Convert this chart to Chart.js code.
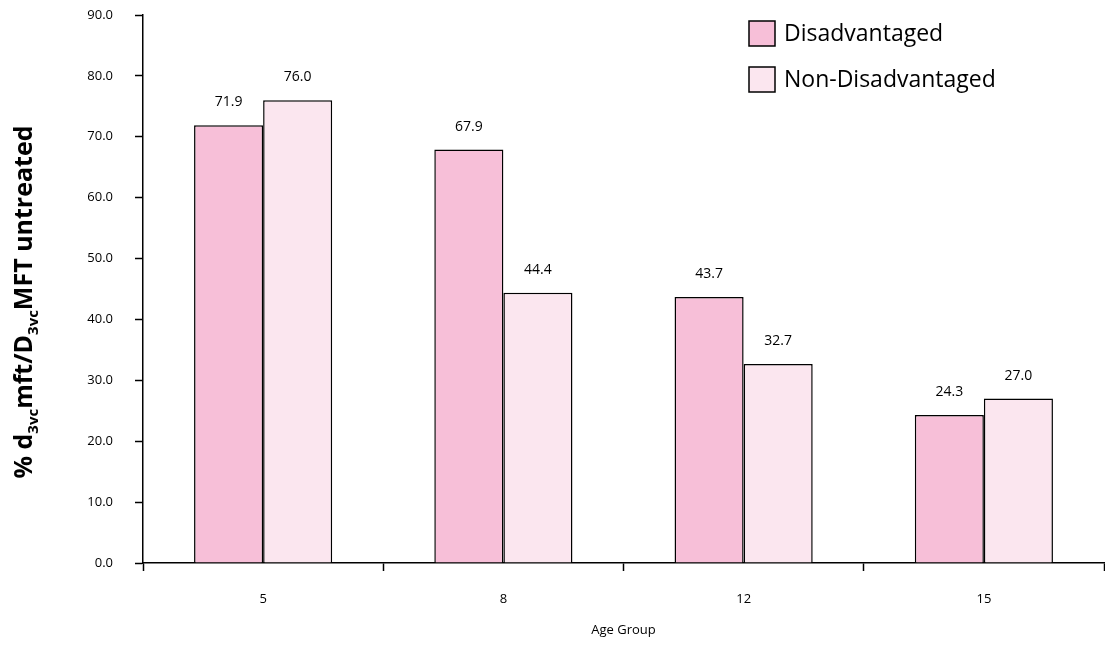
<!DOCTYPE html>
<html>
<head>
<meta charset="utf-8">
<script src="https://cdn.jsdelivr.net/npm/chart.js@4.4.1/dist/chart.umd.min.js"></script>
<style>
  html, body { margin: 0; padding: 0; background: #fff; }
  #wrap { width: 1105px; height: 648px; position: relative; }
</style>
</head>
<body>
<div id="wrap"><canvas id="chart"></canvas></div>
<script>
// chart values
const ageGroups = ['5', '8', '12', '15'];
const disadvantaged = [71.9, 67.9, 43.7, 24.3];
const nonDisadvantaged = [76.0, 44.4, 32.7, 27.0];
const seriesNames = ['Disadvantaged', 'Non-Disadvantaged'];
const seriesColors = ['#f7bfd8', '#fbe6ef'];
const yTitleParts = [['% d', false], ['3vc', true], ['mft/D', false], ['3vc', true], ['MFT untreated', false]];
const xTitle = 'Age Group';

const FONT = '"Open Sans", "DejaVu Sans", sans-serif';

// value labels above bars
const barLabels = {
    id: 'barLabels',
    afterDatasetsDraw(chart) {
        let ctx = chart.ctx;
        ctx.save();
        ctx.font = '14px ' + FONT;
        ctx.fillStyle = '#000';
        ctx.textAlign = 'center';
        ctx.textBaseline = 'middle';
        chart.data.datasets.forEach((ds, i) => {
            chart.getDatasetMeta(i).data.forEach((bar, j) => {
                ctx.fillText(ds.data[j].toFixed(1), bar.x, bar.y - 23);
            });
        });
        ctx.restore();
    }
};

// legend in top right + rotated y title with subscripts
const extras = {
    id: 'extras',
    afterDraw(chart) {
        let ctx = chart.ctx;
        ctx.save();
        // legend
        ctx.font = '23px ' + FONT;
        ctx.textBaseline = 'middle';
        ctx.textAlign = 'left';
        seriesNames.forEach((name, i) => {
            let y = 21 + i * 46;
            ctx.fillStyle = seriesColors[i];
            ctx.fillRect(749, y, 26, 25);
            ctx.strokeStyle = '#000';
            ctx.lineWidth = 1.5;
            ctx.strokeRect(749, y, 26, 25);
            ctx.fillStyle = '#000';
            ctx.fillText(name, 784, y + 13);
        });

        // y title
        let big = 'bold 25px ' + FONT;
        let small = 'bold 15px ' + FONT;
        let total = 0;
        yTitleParts.forEach(p => {
            ctx.font = p[1] ? small : big;
            total += ctx.measureText(p[0]).width;
        });
        ctx.translate(32, 302);
        ctx.rotate(-Math.PI / 2);
        ctx.textBaseline = 'alphabetic';
        let x = -total / 2;
        yTitleParts.forEach(p => {
            ctx.font = p[1] ? small : big;
            ctx.fillText(p[0], x, p[1] ? 6 : 0);
            x += ctx.measureText(p[0]).width;
        });
        ctx.restore();
    }
};

let datas = {
    labels: ageGroups,
    datasets: [
        {
            label: seriesNames[0],
            data: disadvantaged,
            backgroundColor: seriesColors[0],
            borderColor: '#000',
            borderWidth: 1.5,
            categoryPercentage: 0.575,
            barPercentage: 1.0
        },
        {
            label: seriesNames[1],
            data: nonDisadvantaged,
            backgroundColor: seriesColors[1],
            borderColor: '#000',
            borderWidth: 1.5,
            categoryPercentage: 0.575,
            barPercentage: 1.0
        }
    ]
};

let config = {
    type: 'bar',
    data: datas,
    options: {
        responsive: true,
        maintainAspectRatio: false,
        animation: false,
        layout: { padding: { top: 15, right: 1, left: 0, bottom: 0 } },
        plugins: {
            legend: { display: false },
            tooltip: { enabled: false }
        },
        scales: {
            x: {
                grid: {
                    offset: true,
                    drawOnChartArea: false,
                    drawTicks: true,
                    tickLength: 8,
                    tickWidth: 1.5,
                    color: '#000',
                    tickColor: '#000'
                },
                border: { color: '#000', width: 1.5 },
                ticks: { color: '#000', font: { family: FONT, size: 13 }, padding: 20, maxRotation: 0 },
                title: {
                    display: true,
                    text: xTitle,
                    color: '#000',
                    font: { family: FONT, size: 13 },
                    padding: { top: 0, bottom: 10 }
                },
                afterFit(scale) { scale.height = 85; }
            },
            y: {
                min: 0,
                max: 90,
                ticks: {
                    stepSize: 10,
                    color: '#000',
                    font: { family: FONT, size: 13 },
                    padding: 22,
                    callback: v => v.toFixed(1)
                },
                grid: {
                    drawOnChartArea: false,
                    drawTicks: true,
                    tickLength: 8,
                    tickWidth: 1.5,
                    tickColor: '#000'
                },
                border: { color: '#000', width: 1.5 },
                afterFit(scale) {
                    scale.width = 143;
                    scale.paddingTop = 8;
                    scale.paddingBottom = 8;
                }
            }
        }
    },
    plugins: [barLabels, extras]
};

let canvas = document.getElementById('chart');
let chart = new Chart(canvas, config);
</script>
</body>
</html>
